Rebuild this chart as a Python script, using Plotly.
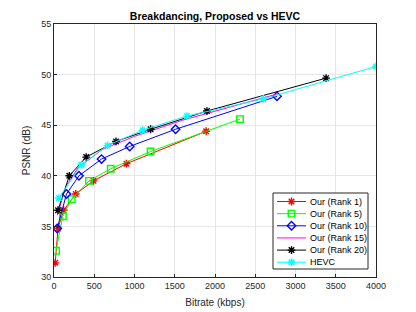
import plotly.graph_objects as go

rank1_x = [15, 50, 120, 270, 490, 900, 1890]
rank1_y = [31.4, 34.8, 36.6, 38.2, 39.5, 41.2, 44.4]
rank5_x = [25, 110, 220, 435, 705, 1200, 2310]
rank5_y = [32.6, 36.0, 37.7, 39.5, 40.7, 42.4, 45.6]
rank10_x = [40, 155, 310, 590, 940, 1510, 2770]
rank10_y = [34.8, 38.2, 40.0, 41.65, 42.9, 44.6, 47.85]
rank15_x = [40, 150, 300, 600, 1000, 1600, 2780]
rank15_y = [36.1, 39.0, 40.8, 42.6, 43.9, 45.5, 48.1]
rank20_x = [50, 190, 400, 770, 1200, 1900, 3380]
rank20_y = [36.6, 40.0, 41.85, 43.4, 44.6, 46.4, 49.65]
hevc_x = [60, 340, 665, 1100, 1650, 2600, 4000]
hevc_y = [37.8, 41.1, 43.0, 44.5, 45.9, 47.6, 50.8]
x_ticks = [0, 500, 1000, 1500, 2000, 2500, 3000, 3500, 4000]
y_ticks = [30, 35, 40, 45, 50, 55]

series = [
    ("Our (Rank 1)", rank1_x, rank1_y, "#FF0000", "asterisk-open"),
    ("Our (Rank 5)", rank5_x, rank5_y, "#00FF00", "square-open"),
    ("Our (Rank 10)", rank10_x, rank10_y, "#0000FF", "diamond-open"),
    ("Our (Rank 15)", rank15_x, rank15_y, "#FF00FF", None),
    ("Our (Rank 20)", rank20_x, rank20_y, "#000000", "asterisk-open"),
    ("HEVC", hevc_x, hevc_y, "#00FFFF", "asterisk-open"),
]

FONT = "Liberation Sans, Arial"
W, H = 416, 312
ML, MR, MT, MB = 54, 40, 24, 35
XR, YR = (0, 4000), (30, 55)


def px_to_x(px):
    return XR[0] + (px - ML) / (W - ML - MR) * (XR[1] - XR[0])


def px_to_y(py):
    return YR[1] - (py - MT) / (H - MT - MB) * (YR[1] - YR[0])


fig = go.Figure()
for name, xs, ys, color, sym in series:
    if sym is None:
        fig.add_trace(go.Scatter(x=xs, y=ys, name=name, mode="lines", showlegend=False,
                                 line=dict(color=color, width=1)))
    else:
        fig.add_trace(go.Scatter(x=xs, y=ys, name=name, mode="lines+markers", showlegend=False,
                                 line=dict(color=color, width=1),
                                 marker=dict(symbol=sym, size=6.5, color=color,
                                             line=dict(color=color, width=1.4))))

# Custom compact legend box (positions in window pixels, converted to axis units)
lg_left, lg_right, lg_top, lg_bottom = 273, 368, 193, 269
row_y0, row_dy = 201.5, 12.15
line_x0, line_x1, text_x = 277, 306, 308
shapes = [dict(type="rect", xref="x", yref="y",
               x0=px_to_x(lg_left), x1=px_to_x(lg_right),
               y0=px_to_y(lg_top), y1=px_to_y(lg_bottom),
               line=dict(color="#262626", width=1), fillcolor="white", layer="between")]
annotations = []
for i, (name, xs, ys, color, sym) in enumerate(series):
    yy = px_to_y(row_y0 + i * row_dy)
    shapes.append(dict(type="line", xref="x", yref="y", x0=px_to_x(line_x0), x1=px_to_x(line_x1),
                       y0=yy, y1=yy, line=dict(color=color, width=1), layer="between"))
    annotations.append(dict(x=px_to_x(text_x), y=yy, xref="x", yref="y", text=name,
                            showarrow=False, xanchor="left", yanchor="middle",
                            font=dict(family=FONT, size=9, color="#000000")))
    if sym is not None:
        fig.add_trace(go.Scatter(x=[px_to_x((line_x0 + line_x1) / 2)], y=[yy],
                                 mode="markers", showlegend=False, hoverinfo="skip",
                                 marker=dict(symbol=sym, size=6.5, color=color,
                                             line=dict(color=color, width=1.4))))

axis_common = dict(
    showgrid=True, gridcolor="#E6E6E6", gridwidth=1,
    showline=True, linecolor="#262626", linewidth=1, mirror=True,
    ticks="inside", ticklen=3, tickcolor="#262626",
    tickfont=dict(family=FONT, size=9, color="#262626"),
    zeroline=False, automargin=False,
)

fig.update_layout(
    width=W, height=H,
    margin=dict(l=ML, r=MR, t=MT, b=MB),
    paper_bgcolor="white", plot_bgcolor="white",
    title=dict(text="<b>Breakdancing, Proposed vs HEVC</b>", x=0.5, xanchor="center",
               xref="paper", y=1 - 16.7 / H, yanchor="middle",
               font=dict(family=FONT, size=10.5, color="#000000")),
    xaxis=dict(range=list(XR), tickvals=x_ticks,
               title=dict(text="Bitrate (kbps)", standoff=9,
                          font=dict(family=FONT, size=10, color="#262626")),
               **axis_common),
    yaxis=dict(range=list(YR), tickvals=y_ticks,
               title=dict(text="PSNR (dB)", standoff=8,
                          font=dict(family=FONT, size=10, color="#262626")),
               **axis_common),
    shapes=shapes,
    annotations=annotations,
    showlegend=False,
)

fig.write_html("out.html", config={"displayModeBar": False},
               post_script="document.body.style.margin='0';")
